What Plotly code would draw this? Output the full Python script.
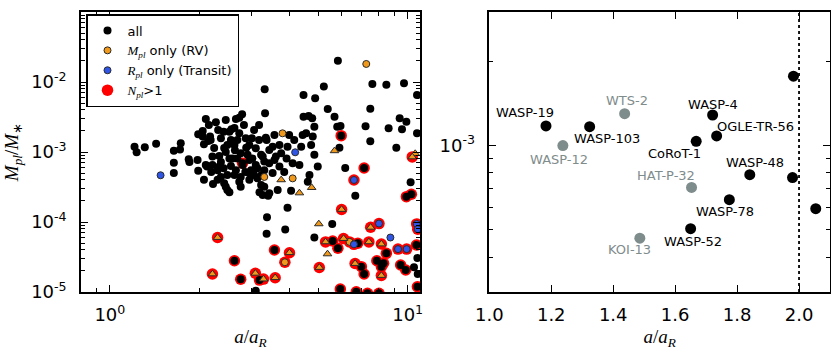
import numpy as np
import plotly.graph_objects as go

# ---------------- LEFT PANEL DATA ----------------
# plain "all" planets (single-planet systems)
all_a = [1.21, 1.23, 1.31, 1.43, 1.64, 1.73, 1.72, 1.64, 1.64, 1.84, 1.85, 1.97, 1.98, 1.98, 2.05, 2.10,
         2.12, 2.07, 2.27, 2.31, 2.41, 2.56, 2.65, 2.78, 2.72, 2.17, 2.07, 2.14, 2.33, 2.21, 2.22, 2.41,
         2.52, 2.55, 2.36, 2.86, 2.87, 2.75, 2.68, 2.79, 2.98, 3.13, 2.48, 2.36, 2.62, 2.75, 2.75, 2.48,
         2.45, 2.52, 2.30, 2.42, 3.22, 3.30, 3.32, 3.36, 3.09, 3.22, 3.30, 3.01, 3.05, 2.45, 2.52, 2.72,
         2.05, 2.18, 3.00, 3.34, 3.57, 4.00, 3.52, 3.76, 3.95, 4.39, 4.44, 4.56, 4.47, 4.65, 4.78, 4.86,
         4.80, 4.74, 4.86, 4.33, 4.99, 4.68, 4.62, 4.06, 3.66, 3.43, 3.18, 3.52, 3.71, 3.92, 4.11, 2.72,
         2.10, 2.21, 2.33, 2.58, 2.65, 2.94, 3.09, 3.26, 3.43, 3.61, 3.31, 4.47, 4.89, 5.23, 5.39, 5.83,
         7.61, 8.48, 9.72, 10.75, 7.49, 5.68, 5.80, 5.95, 7.22, 8.63, 9.40, 9.90, 9.57, 10.75, 7.49, 9.16,
         5.90, 6.17, 6.67, 10.23, 3.95, 3.37, 3.36, 3.88, 3.40, 3.26, 3.09, 4.86, 5.58, 10.50, 10.78, 10.81,
         2.62, 2.42, 2.94, 2.30, 3.23,
         2.24, 2.48, 2.68, 2.94, 3.17, 2.36, 2.55, 2.85, 3.13, 2.19, 2.45, 2.63, 3.05, 2.82, 3.17, 3.43,
         3.71, 4.16, 3.30, 2.94, 2.15, 2.62, 2.90, 3.57, 3.85]
all_m = [1.19e-3, 9.9e-4, 1.17e-3, 1.31e-3, 1.04e-3, 1.33e-3, 1.09e-3, 7.0e-4, 5.0e-4, 7.9e-4, 7.2e-4,
         7.7e-4, 1.79e-3, 5.4e-4, 2.0e-3, 2.96e-3, 6.2e-4, 4.0e-4, 2.66e-3, 2.06e-3, 1.95e-3, 2.11e-3,
         2.96e-3, 3.46e-3, 3.09e-3, 1.66e-3, 1.29e-3, 1.44e-3, 8.8e-4, 6.5e-4, 3.5e-4, 5.85e-4, 8.1e-4,
         1.48e-3, 1.57e-3, 1.57e-3, 1.15e-3, 9.6e-4, 8.1e-4, 6.5e-4, 5.5e-4, 5.85e-4, 4.7e-4, 4.4e-4,
         4.7e-4, 4.4e-4, 3.2e-4, 2.87e-4, 3.2e-4, 2.66e-4, 4.0e-4, 3.57e-4, 3.38e-4, 3.2e-4, 3.57e-3,
         1.48e-3, 1.13e-3, 9.1e-4, 7.3e-4, 8.1e-4, 4.7e-4, 2.87e-3, 1.95e-3, 1.85e-3, 1.66e-3, 1.48e-3,
         1.57e-3, 1.60e-3, 1.75e-3, 1.75e-3, 1.19e-3, 9.6e-4, 1.19e-3, 1.19e-3, 1.75e-3, 1.85e-3, 3.19e-3,
         3.27e-3, 3.03e-3, 2.30e-3, 1.66e-3, 1.26e-3, 9.1e-4, 6.5e-4, 6.2e-4, 4.7e-4, 3.77e-4, 2.80e-4,
         2.87e-4, 2.57e-4, 2.66e-4, 5.0e-4, 6.2e-4, 8.1e-4, 6.9e-4, 3.77e-4, 6.5e-4, 8.6e-4, 6.2e-4,
         8.1e-4, 5.5e-4, 5.0e-4, 6.5e-4, 8.6e-4, 6.9e-4, 8.6e-4, 7.9e-3, 6.5e-3, 5.85e-3, 8.6e-3, 4.11e-3,
         2.01e-2, 9.4e-3, 9.15e-3, 9.6e-3, 6.5e-3, 4.16e-3, 3.19e-3, 2.30e-3, 2.35e-3, 2.33e-3, 2.18e-3,
         3.03e-3, 2.71e-3, 2.11e-3, 1.85e-3, 1.42e-3, 1.15e-3, 1.15e-3, 5.9e-4, 2.38e-4, 3.69e-4, 1.60e-4,
         1.17e-4, 6.8e-5, 7.8e-5, 2.38e-4, 2.43e-4, 1.04e-5, 6.0e-5, 9.4e-5, 2.25e-5, 3.06e-5, 1.81e-5,
         1.26e-3, 1.14e-3, 7.7e-4, 5.5e-4, 4.7e-4,
         1.14e-3, 1.26e-3, 1.48e-3, 1.26e-3, 1.48e-3, 7.2e-4, 6.3e-4, 5.2e-4, 4.2e-4, 5.2e-4, 1.0e-3,
         1.06e-3, 2.06e-3, 2.43e-3, 2.43e-3, 1.07e-3, 1.26e-3, 1.48e-3, 5.5e-4, 4.0e-4, 2.43e-3, 2.2e-3,
         9.1e-4, 7.7e-4, 5.2e-4]

# "all" planets in multi-planet systems (N_pl > 1)
multi_all_a = [2.79, 5.98, 7.14, 9.90, 10.29, 2.62, 2.75, 3.18, 3.57, 5.60, 5.83, 6.80, 8.48, 6.99, 7.14,
               7.88, 8.16, 8.30, 9.47, 9.85, 10.70, 10.78, 5.94, 6.72, 8.01, 7.33]
multi_all_m = [6.9e-4, 1.71e-3, 5.9e-4, 2.30e-4, 2.49e-4, 2.80e-5, 1.52e-5, 1.48e-5, 3.98e-5, 5.35e-5,
               4.21e-5, 4.97e-5, 3.57e-5, 2.30e-5, 1.81e-5, 2.80e-5, 2.30e-5, 2.57e-5, 2.43e-5, 2.06e-5,
               4.69e-5, 1.19e-5, 1.10e-5, 1.01e-5, 9.6e-6, 9.6e-6]

# M_pl only (RV)
rv_a = [7.26, 3.80, 3.30, 4.11]
rv_m = [1.81e-2, 1.85e-3, 4.4e-4, 4.2e-4]
multi_rv_a = [3.87, 6.38]
multi_rv_m = [2.66e-5, 5.2e-5]

# R_pl only (Transit)
tr_a = [1.48, 4.19, 8.75]
tr_m = [4.65e-4, 9.9e-4, 6.0e-5]
multi_tr_a = [6.60, 8.01, 6.60, 9.28, 9.92, 10.72, 10.81]
multi_tr_m = [3.98e-4, 9.5e-5, 4.8e-5, 4.1e-5, 4.1e-5, 9.4e-5, 7.9e-5]

# minimum-mass (triangle) planets
msini_a = [3.76, 4.76, 4.33, 5.68, 5.03, 5.38, 10.60]
msini_m = [4.0e-4, 3.1e-4, 2.6e-4, 1.04e-3, 9.4e-5, 3.5e-5, 9.5e-4]
multi_msini_a = [2.30, 2.21, 3.08, 3.28, 3.59, 4.01, 5.05, 6.00, 5.30, 6.09, 7.41, 7.51, 8.16, 6.66, 8.16, 10.36]
multi_msini_m = [6.0e-5, 1.81e-5, 1.85e-5, 1.53e-5, 1.60e-5, 3.64e-5, 2.24e-5, 1.51e-4, 5.2e-5, 5.8e-5,
                 5.2e-5, 8.4e-5, 4.85e-5, 2.55e-5, 1.72e-5, 8.5e-4]

divide_a = 2.0

left_xticks = [1, 10]
left_xticklabels = ["10<sup>0</sup>", "10<sup>1</sup>"]
left_yticks = [1e-5, 1e-4, 1e-3, 1e-2, 1e-1]
left_yticklabels = ["10<sup>-5</sup>", "10<sup>-4</sup>", "10<sup>-3</sup>", "10<sup>-2</sup>", "10<sup>-1</sup>"]

# ---------------- RIGHT PANEL DATA ----------------
names = ["WASP-19", "WASP-103", "WASP-12", "WTS-2", "WASP-4", "OGLE-TR-56", "CoRoT-1", "",
         "WASP-48", "", "HAT-P-32", "WASP-78", "", "WASP-52", "KOI-13"]
zoom_a = [1.183, 1.324, 1.2375, 1.437, 1.721, 1.734, 1.668, 1.982, 1.841, 1.979, 1.653, 1.775, 2.054, 1.650, 1.486]
zoom_m = [1.175e-3, 1.168e-3, 1.0e-3, 1.30e-3, 1.286e-3, 1.083e-3, 1.036e-3, 1.77e-3, 7.87e-4,
          7.69e-4, 7.09e-4, 6.41e-4, 5.95e-4, 5.05e-4, 4.67e-4]
zoom_gray = [False, False, True, True, False, False, False, False, False, False, True, False, False, False, True]

right_xticks = [1.0, 1.2, 1.4, 1.6, 1.8, 2.0]
right_xticklabels = ["1.0", "1.2", "1.4", "1.6", "1.8", "2.0"]
right_yticks = [1e-3]
right_yticklabels = ["10<sup>-3</sup>"]

# label offsets in pixels (dx, dy) relative to each point
label_offsets = {
    "WASP-19": (-21, 13), "WASP-103": (17, -12), "WASP-12": (-4, -14), "WTS-2": (2, 13),
    "WASP-4": (0, 11), "OGLE-TR-56": (39, 9), "CoRoT-1": (-22, -12), "WASP-48": (5, 12),
    "HAT-P-32": (-26, 12), "WASP-78": (-4, -12), "WASP-52": (2, -13), "KOI-13": (-10, -11),
}

# ---------------- STYLE ----------------
RED = "#ff0000"
ORANGE = "#f0991a"
BLUE = "#2f55e6"
EDGE = "#2b2b2b"
GRAY = "#7f8c8c"
SANS = "DejaVu Sans"
SERIF = "Liberation Serif"

def math(s):
    return "<span style='font-family:%s'>%s</span>" % (SERIF, s)

fig = go.Figure()

halo_a = multi_all_a + multi_rv_a + multi_tr_a + multi_msini_a
halo_m = multi_all_m + multi_rv_m + multi_tr_m + multi_msini_m

fig.add_trace(go.Scatter(x=halo_a, y=halo_m, mode="markers",
                         marker=dict(size=11.5, color=RED, line=dict(width=0)),
                         name=math("<i>N</i><sub><i>pl</i></sub>") + "&gt;1", legendrank=4))
fig.add_trace(go.Scatter(x=all_a + multi_all_a, y=all_m + multi_all_m, mode="markers",
                         marker=dict(size=8, color="black", line=dict(width=0)),
                         name="all", legendrank=1))
fig.add_trace(go.Scatter(x=rv_a + multi_rv_a, y=rv_m + multi_rv_m, mode="markers",
                         marker=dict(size=7, color=ORANGE, line=dict(width=1, color=EDGE)),
                         name=math("<i>M</i><sub><i>pl</i></sub>") + " only (RV)", legendrank=2))
fig.add_trace(go.Scatter(x=tr_a + multi_tr_a, y=tr_m + multi_tr_m, mode="markers",
                         marker=dict(size=7, color=BLUE, line=dict(width=1, color=EDGE)),
                         name=math("<i>R</i><sub><i>pl</i></sub>") + " only (Transit)", legendrank=3))
fig.add_trace(go.Scatter(x=msini_a + multi_msini_a, y=msini_m + multi_msini_m, mode="markers",
                         marker=dict(size=7.5, symbol="triangle-up", color=ORANGE, line=dict(width=1, color=EDGE)),
                         showlegend=False))

# right panel
colors = [GRAY if g else "black" for g in zoom_gray]
fig.add_trace(go.Scatter(x=zoom_a, y=zoom_m, mode="markers", xaxis="x2", yaxis="y2",
                         marker=dict(size=11, color=colors, line=dict(width=0)), showlegend=False))

annotations = []
for n, a, m, g in zip(names, zoom_a, zoom_m, zoom_gray):
    if not n:
        continue
    dx, dy = label_offsets[n]
    annotations.append(dict(x=a, y=np.log10(m), xref="x2", yref="y2", text=n, showarrow=False,
                            xshift=dx, yshift=dy, xanchor="center", yanchor="middle",
                            font=dict(family=SANS, size=13, color=GRAY if g else "black")))

shapes = [
    dict(type="line", xref="x", yref="y domain", x0=np.log10(divide_a), x1=np.log10(divide_a), y0=0, y1=1,
         line=dict(color="black", width=1.8, dash="dot")),
    dict(type="line", xref="x2", yref="y2 domain", x0=divide_a, x1=divide_a, y0=0, y1=1,
         line=dict(color="black", width=1.8, dash="dot")),
]

def minor_log(decades, digits):
    return [d * 10.0 ** e for e in decades for d in digits]

axis_common = dict(showline=True, linewidth=1.5, linecolor="black", mirror="allticks",
                   ticks="inside", ticklen=7, tickwidth=1, tickcolor="black",
                   showgrid=False, zeroline=False, automargin=False,
                   tickfont=dict(family=SANS, size=18, color="black"))

fig.update_layout(
    width=831, height=350, margin=dict(l=0, r=0, t=0, b=0),
    paper_bgcolor="white", plot_bgcolor="white",
    xaxis=dict(domain=[81 / 831, 420 / 831], type="log", range=[np.log10(0.8), np.log10(11)],
               tickmode="array", tickvals=left_xticks, ticktext=left_xticklabels,
               minor=dict(tickvals=[0.8, 0.9] + minor_log([0], [2, 3, 4, 5, 6, 7, 8, 9]) + [11],
                          ticks="inside", ticklen=4, tickcolor="black"),
               ticklabelstandoff=6,
               title=dict(text="<i>a</i>/<i>a</i><sub><i>R</i></sub>", standoff=6,
                          font=dict(family=SERIF, size=19, color="black")),
               anchor="y", **axis_common),
    yaxis=dict(domain=[58 / 350, 338 / 350], type="log", range=[-5, -1],
               tickmode="array", tickvals=left_yticks, ticktext=left_yticklabels,
               minor=dict(tickvals=minor_log([-5, -4, -3, -2], [2, 3, 4, 5, 6, 7, 8, 9]),
                          ticks="inside", ticklen=4, tickcolor="black"),
               ticklabelstandoff=9,
               title=dict(text="<i>M</i><sub><i>pl</i></sub>/<i>M</i><sub>∗</sub>", standoff=8,
                          font=dict(family=SERIF, size=19, color="black")),
               anchor="x", **axis_common),
    xaxis2=dict(domain=[489.3 / 831, 830 / 831], range=[1.0, 2.1],
                tickmode="array", tickvals=right_xticks, ticktext=right_xticklabels,
                ticklabelstandoff=6,
                title=dict(text="<i>a</i>/<i>a</i><sub><i>R</i></sub>", standoff=6,
                           font=dict(family=SERIF, size=19, color="black")),
                anchor="y2", **axis_common),
    yaxis2=dict(domain=[58 / 350, 338 / 350], type="log", range=[np.log10(3e-4), np.log10(3e-3)],
                tickmode="array", tickvals=right_yticks, ticktext=right_yticklabels,
                minor=dict(tickvals=[3e-4, 4e-4, 5e-4, 6e-4, 7e-4, 8e-4, 9e-4, 2e-3, 3e-3],
                           ticks="inside", ticklen=4, tickcolor="black"),
                ticklabelstandoff=9,
                anchor="x2", **axis_common),
    legend=dict(x=86 / 831, y=1 - 14 / 350, xanchor="left", yanchor="top",
                bgcolor="white", bordercolor="black", borderwidth=1.5,
                font=dict(family=SANS, size=13, color="black"),
                tracegroupgap=0, itemwidth=30),
    annotations=annotations,
    shapes=shapes,
    showlegend=True,
)

fig.write_html("out.html", config={"displayModeBar": False},
               post_script="document.body.style.margin='0px';")
